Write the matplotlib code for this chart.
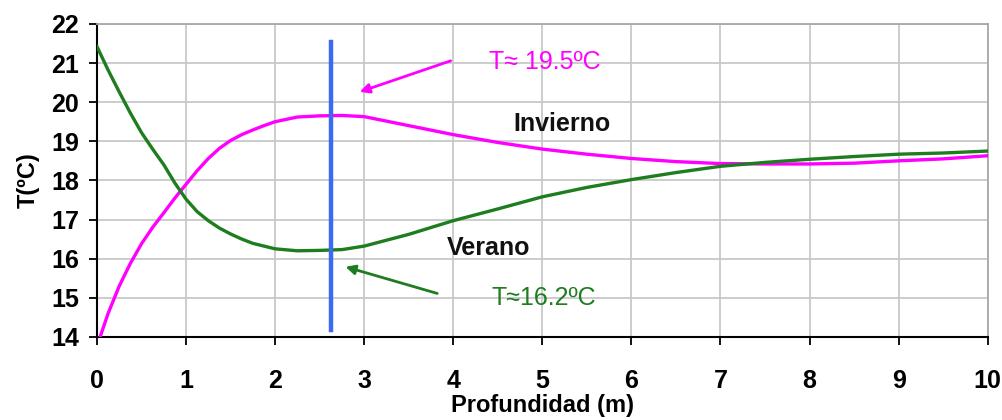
import matplotlib
matplotlib.use("Agg")
import matplotlib.pyplot as plt

depth_inv = [0.04, 0.125, 0.25, 0.375, 0.5, 0.625, 0.75, 0.875, 1.0, 1.125, 1.25, 1.375, 1.5, 1.625, 1.75, 1.875, 2.0, 2.25, 2.5, 2.75, 3.0, 3.5, 4.0, 4.5, 5.0, 5.5, 6.0, 6.5, 7.0, 7.5, 8.0, 8.5, 9.0, 9.5, 10.0]
temp_inv = [14.03, 14.6, 15.3, 15.88, 16.38, 16.8, 17.17, 17.55, 17.9, 18.25, 18.56, 18.82, 19.02, 19.17, 19.29, 19.4, 19.5, 19.62, 19.65, 19.66, 19.63, 19.4, 19.17, 18.97, 18.8, 18.67, 18.56, 18.48, 18.43, 18.42, 18.42, 18.44, 18.5, 18.55, 18.63]

depth_ver = [0.0, 0.125, 0.25, 0.375, 0.5, 0.625, 0.75, 0.875, 1.0, 1.125, 1.25, 1.375, 1.5, 1.625, 1.75, 2.0, 2.25, 2.5, 2.75, 3.0, 3.5, 4.0, 4.5, 5.0, 5.5, 6.0, 6.5, 7.0, 7.5, 8.0, 8.5, 9.0, 9.5, 10.0]
temp_ver = [21.42, 20.82, 20.26, 19.72, 19.22, 18.8, 18.4, 17.93, 17.52, 17.2, 16.97, 16.78, 16.63, 16.5, 16.39, 16.25, 16.2, 16.21, 16.23, 16.32, 16.62, 16.97, 17.27, 17.58, 17.82, 18.02, 18.2, 18.36, 18.46, 18.54, 18.61, 18.67, 18.7, 18.75]

x_ticks = list(range(0, 11))
y_ticks = list(range(14, 23))
vline_x = 2.63

plt.rcParams['font.family'] = ['Liberation Sans', 'DejaVu Sans']

fig = plt.figure(figsize=(10.03, 4.2), dpi=100)
ax = fig.add_axes([0.0967, 0.198, 0.888, 0.745])

ax.plot(depth_inv, temp_inv, color='#ff00ff', lw=2.4, zorder=3)
ax.plot(depth_ver, temp_ver, color='#1e7d1e', lw=2.4, zorder=3)
ax.plot([vline_x, vline_x], [14.17, 21.55], color='#3a6af0', lw=3.2, zorder=4)

ax.set_xlim(0, 10)
ax.set_ylim(14, 22)
ax.set_xticks(x_ticks)
ax.set_yticks(y_ticks)
ax.grid(True, color='#c8c8c8', lw=1.3)
ax.set_axisbelow(True)
for s in ['top', 'right']:
    ax.spines[s].set_color('#a8a8a8')
    ax.spines[s].set_linewidth(1.3)
for s in ['left', 'bottom']:
    ax.spines[s].set_color('black')
    ax.spines[s].set_linewidth(1.5)
ax.tick_params(axis='x', direction='out', length=6, width=1.3, pad=17, labelsize=18)
ax.tick_params(axis='y', direction='out', length=6, width=1.3, pad=7, labelsize=18)
for lab in ax.get_xticklabels() + ax.get_yticklabels():
    lab.set_fontweight('bold')

ax.set_xlabel('Profundidad (m)', fontsize=17, fontweight='bold', labelpad=1)
ax.set_ylabel('T(ºC)', fontsize=17, fontweight='bold', labelpad=8)

ax.text(4.4, 21.03, 'T≈ 19.5ºC', color='#ff00ff', fontsize=18, ha='left', va='center')
ax.annotate('', xy=(2.92, 20.24), xytext=(4.0, 21.08),
            arrowprops=dict(arrowstyle='-|>', color='#ff00ff', lw=2, mutation_scale=14))
ax.text(4.43, 15.0, 'T≈16.2ºC', color='#1e7d1e', fontsize=18, ha='left', va='center')
ax.annotate('', xy=(2.76, 15.81), xytext=(3.85, 15.09),
            arrowprops=dict(arrowstyle='-|>', color='#1e7d1e', lw=2, mutation_scale=14))
ax.text(5.22, 19.44, 'Invierno', color='#111111', fontsize=18, fontweight='bold', ha='center', va='center')
ax.text(4.4, 16.27, 'Verano', color='#111111', fontsize=18, fontweight='bold', ha='center', va='center')

fig.savefig('out.png', dpi=100)
